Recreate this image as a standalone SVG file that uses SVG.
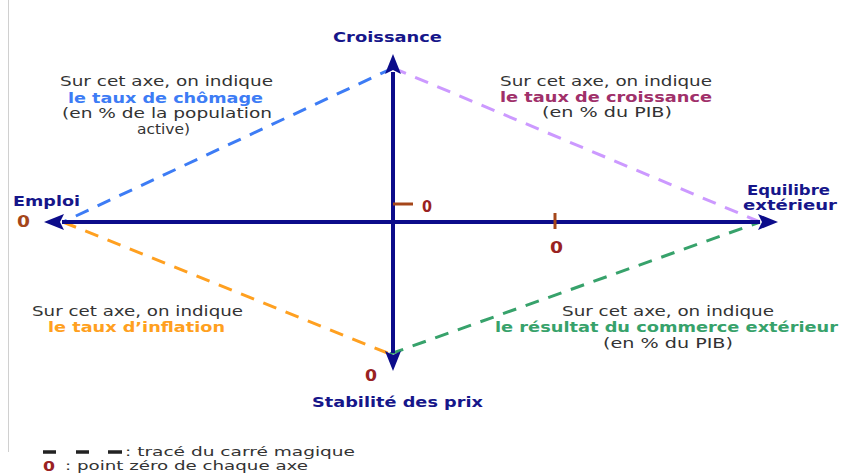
<svg xmlns="http://www.w3.org/2000/svg" width="841" height="473" viewBox="0 0 841 473">
<style>
text{font-family:"DejaVu Sans","Liberation Sans",sans-serif}
.t{font-size:14.5px;fill:#333}
.l{font-size:13px;fill:#333}
.b{font-size:14px;font-weight:bold}
.ax{fill:#16168a}
.z{font-weight:bold;font-size:16px;fill:#992222}
.axis{stroke:#0c0c8a;stroke-width:4;fill:none}
.d{stroke-width:3;fill:none;stroke-dasharray:14 10}
</style>
<defs>
<marker id="ah" markerUnits="userSpaceOnUse" markerWidth="22" markerHeight="18" refX="2" refY="9" orient="auto">
<path d="M0,1 L20,9 L0,17 L4,9 z" fill="#0c0c8a"/>
</marker>
</defs>
<rect width="841" height="473" fill="#fff"/>
<line x1="8.5" y1="0" x2="8.5" y2="452" stroke="#d0d0d0" stroke-width="1"/>

<g id="connectors">
<line class="d" stroke="#3d7cf5" x1="393" y1="68" x2="63" y2="222"/>
<line class="d" stroke="#cc99ff" x1="393" y1="68" x2="760" y2="222"/>
<line class="d" stroke="#ffa020" x1="63" y1="222" x2="390" y2="354"/>
<line class="d" stroke="#37a26b" x1="390" y1="354" x2="760" y2="222"/>
<line class="axis" x1="393" y1="222" x2="62" y2="222" marker-end="url(#ah)"/>
<line class="axis" x1="393" y1="222" x2="760" y2="222" marker-end="url(#ah)"/>
<line class="axis" x1="393" y1="222" x2="393" y2="72" marker-end="url(#ah)"/>
<line class="axis" x1="393" y1="222" x2="393" y2="353" marker-end="url(#ah)"/>
<line x1="393" y1="204" x2="413" y2="204" stroke="#a5461a" stroke-width="3"/>
<line x1="555" y1="213" x2="555" y2="229" stroke="#a5461a" stroke-width="3"/>
</g>

<g id="croissance">
<text class="b ax" x="333" y="42" textLength="109" lengthAdjust="spacingAndGlyphs">Croissance</text>
<text class="z" x="422" y="212" textLength="10" lengthAdjust="spacingAndGlyphs">0</text>
</g>
<g id="emploi">
<text class="b ax" x="13" y="206" textLength="67" lengthAdjust="spacingAndGlyphs">Emploi</text>
<text class="z" x="17" y="227" textLength="13" lengthAdjust="spacingAndGlyphs" style="fill:#a5461a">0</text>
</g>
<g id="equilibre">
<text class="b ax" x="747" y="195" textLength="83" lengthAdjust="spacingAndGlyphs">Equilibre</text>
<text class="b ax" x="743" y="210" textLength="94" lengthAdjust="spacingAndGlyphs">extérieur</text>
<text class="z" x="550" y="253" textLength="13" lengthAdjust="spacingAndGlyphs">0</text>
</g>
<g id="stabilite">
<text class="b ax" x="312" y="407" textLength="171" lengthAdjust="spacingAndGlyphs">Stabilité des prix</text>
<text class="z" x="365" y="381" textLength="12" lengthAdjust="spacingAndGlyphs">0</text>
</g>

<g id="note-chomage">
<text class="t" x="60" y="86" textLength="213" lengthAdjust="spacingAndGlyphs">Sur cet axe, on indique</text>
<text class="b" x="68" y="103" textLength="195" lengthAdjust="spacingAndGlyphs" fill="#3d7cf5">le taux de chômage</text>
<text class="t" x="62" y="118" textLength="210" lengthAdjust="spacingAndGlyphs">(en % de la population</text>
<text class="t" x="137" y="134" textLength="53" lengthAdjust="spacingAndGlyphs">active)</text>
</g>
<g id="note-croissance">
<text class="t" x="500" y="86" textLength="212" lengthAdjust="spacingAndGlyphs">Sur cet axe, on indique</text>
<text class="b" x="500" y="102" textLength="212" lengthAdjust="spacingAndGlyphs" fill="#a0306a">le taux de croissance</text>
<text class="t" x="542" y="117" textLength="130" lengthAdjust="spacingAndGlyphs">(en % du PIB)</text>
</g>
<g id="note-inflation">
<text class="t" x="32" y="316" textLength="211" lengthAdjust="spacingAndGlyphs">Sur cet axe, on indique</text>
<text class="b" x="48" y="332" textLength="177" lengthAdjust="spacingAndGlyphs" fill="#ffa020">le taux d’inflation</text>
</g>
<g id="note-commerce">
<text class="t" x="562" y="316" textLength="212" lengthAdjust="spacingAndGlyphs">Sur cet axe, on indique</text>
<text class="b" x="495" y="332" textLength="343" lengthAdjust="spacingAndGlyphs" fill="#37a26b">le résultat du commerce extérieur</text>
<text class="t" x="603" y="348" textLength="130" lengthAdjust="spacingAndGlyphs">(en % du PIB)</text>
</g>

<g id="legend">
<path d="M43,452 H56 M76,452 H89 M108,452 H122" stroke="#222" stroke-width="3.5"/>
<text class="l" x="125" y="456" textLength="230" lengthAdjust="spacingAndGlyphs">: tracé du carré magique</text>
<text class="z" x="43" y="471" textLength="12" lengthAdjust="spacingAndGlyphs" style="font-size:14px">0</text>
<text class="l" x="65" y="470" textLength="243" lengthAdjust="spacingAndGlyphs">: point zéro de chaque axe</text>
</g>
</svg>
